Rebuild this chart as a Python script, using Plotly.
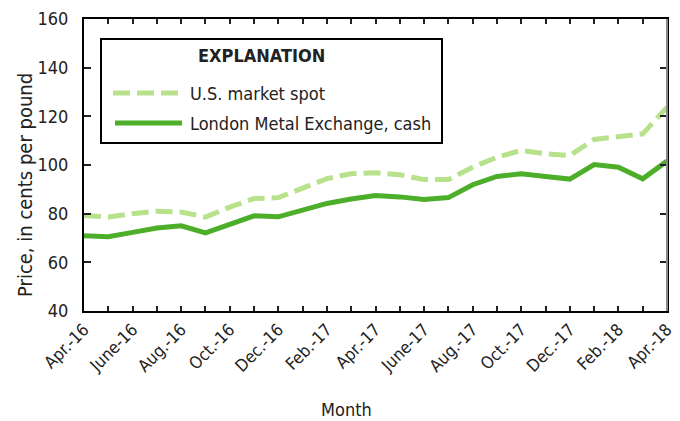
import plotly.graph_objects as go

months = ["Apr.-16", "May-16", "June-16", "July-16", "Aug.-16", "Sep.-16", "Oct.-16", "Nov.-16",
          "Dec.-16", "Jan.-17", "Feb.-17", "Mar.-17", "Apr.-17", "May-17", "June-17", "July-17",
          "Aug.-17", "Sep.-17", "Oct.-17", "Nov.-17", "Dec.-17", "Jan.-18", "Feb.-18", "Mar.-18", "Apr.-18"]
us_spot = [79.3, 78.6, 80.0, 81.0, 80.7, 78.6, 82.7, 86.2, 86.6, 90.4, 94.4, 96.4, 96.8,
           96.0, 94.0, 94.0, 99.1, 103.2, 106.0, 104.6, 103.9, 110.5, 111.7, 112.8, 123.7]
lme_cash = [70.9, 70.5, 72.3, 74.1, 75.0, 72.1, 75.6, 79.1, 78.7, 81.5, 84.2, 86.0, 87.5,
            86.9, 85.8, 86.6, 91.9, 95.3, 96.4, 95.3, 94.2, 100.2, 99.1, 94.3, 101.6]
tick_labels = [m if i % 2 == 0 else "" for i, m in enumerate(months)]

FONT = "Liberation Sans Narrow, Arial Narrow, DejaVu Sans Condensed, sans-serif"
TXT = "#222222"
LIGHT = "#b7e28b"
DARK = "#4cae29"

fig = go.Figure()
fig.add_trace(go.Scatter(x=months, y=us_spot, mode="lines", name="U.S. market spot",
                         line=dict(color=LIGHT, width=5, dash="17px,7px"), showlegend=False))
fig.add_trace(go.Scatter(x=months, y=lme_cash, mode="lines", name="London Metal Exchange, cash",
                         line=dict(color=DARK, width=5), showlegend=False))

L, R, T, B = 84, 13, 19, 110
W, H = 680, 421
pw, ph = W - L - R, H - T - B

def px(x):
    return (x - L) / pw

def py(y):
    return (H - B - y) / ph

# manual legend box
fig.add_shape(type="rect", xref="paper", yref="paper", x0=px(101), x1=px(442), y0=py(143), y1=py(39),
              line=dict(color="black", width=2), fillcolor="white", layer="above")
fig.add_shape(type="line", xref="paper", yref="paper", x0=px(113), x1=px(178), y0=py(93), y1=py(93),
              line=dict(color=LIGHT, width=5, dash="17px,7px"), layer="above")
fig.add_shape(type="line", xref="paper", yref="paper", x0=px(115), x1=px(182), y0=py(123), y1=py(123),
              line=dict(color=DARK, width=5), layer="above")
fig.add_annotation(xref="paper", yref="paper", x=px(261), y=py(56), text="<b>EXPLANATION</b>",
                   showarrow=False, xanchor="center", yanchor="middle", font=dict(size=18, color=TXT))
fig.add_annotation(xref="paper", yref="paper", x=px(188), y=py(93), text="U.S. market spot",
                   showarrow=False, xanchor="left", yanchor="middle", font=dict(size=18, color=TXT))
fig.add_annotation(xref="paper", yref="paper", x=px(188), y=py(123), text="London Metal Exchange, cash",
                   showarrow=False, xanchor="left", yanchor="middle", font=dict(size=18, color=TXT))
# axis titles
fig.add_annotation(xref="paper", yref="paper", x=px(346), y=py(409), text="Month",
                   showarrow=False, xanchor="center", yanchor="middle", font=dict(size=18, color=TXT))
fig.add_annotation(xref="paper", yref="paper", x=px(25), y=py(185), text="Price, in cents per pound",
                   textangle=-90, showarrow=False, xanchor="center", yanchor="middle",
                   font=dict(size=20, color=TXT))
# gray right axis line
fig.add_shape(type="line", xref="paper", yref="paper", x0=1, x1=1, y0=0, y1=1,
              line=dict(color="#888", width=2), layer="above")

fig.update_layout(
    width=W, height=H,
    margin=dict(l=L, r=R, t=T, b=B, autoexpand=False),
    paper_bgcolor="white", plot_bgcolor="white",
    font=dict(family=FONT, size=17, color=TXT),
    xaxis=dict(type="category", range=[0, 24], tickmode="array", tickvals=months, ticktext=tick_labels,
               tickangle=-45, ticks="inside", ticklen=5, tickwidth=1.5, tickcolor="#222",
               showline=True, linecolor="black", linewidth=2, mirror="ticks",
               showgrid=False, zeroline=False, automargin=False, tickfont=dict(size=17)),
    yaxis=dict(range=[40, 160], dtick=20, ticks="inside", ticklen=7, tickwidth=1.5, tickcolor="#222",
               showline=True, linecolor="black", linewidth=2, mirror="ticks",
               showgrid=False, zeroline=False, automargin=False, tickfont=dict(size=18),
               ticklabelstandoff=10),
)

fig.write_html("out.html", config={"displayModeBar": False},
               post_script="document.body.style.margin='0';document.body.style.overflow='hidden';")
